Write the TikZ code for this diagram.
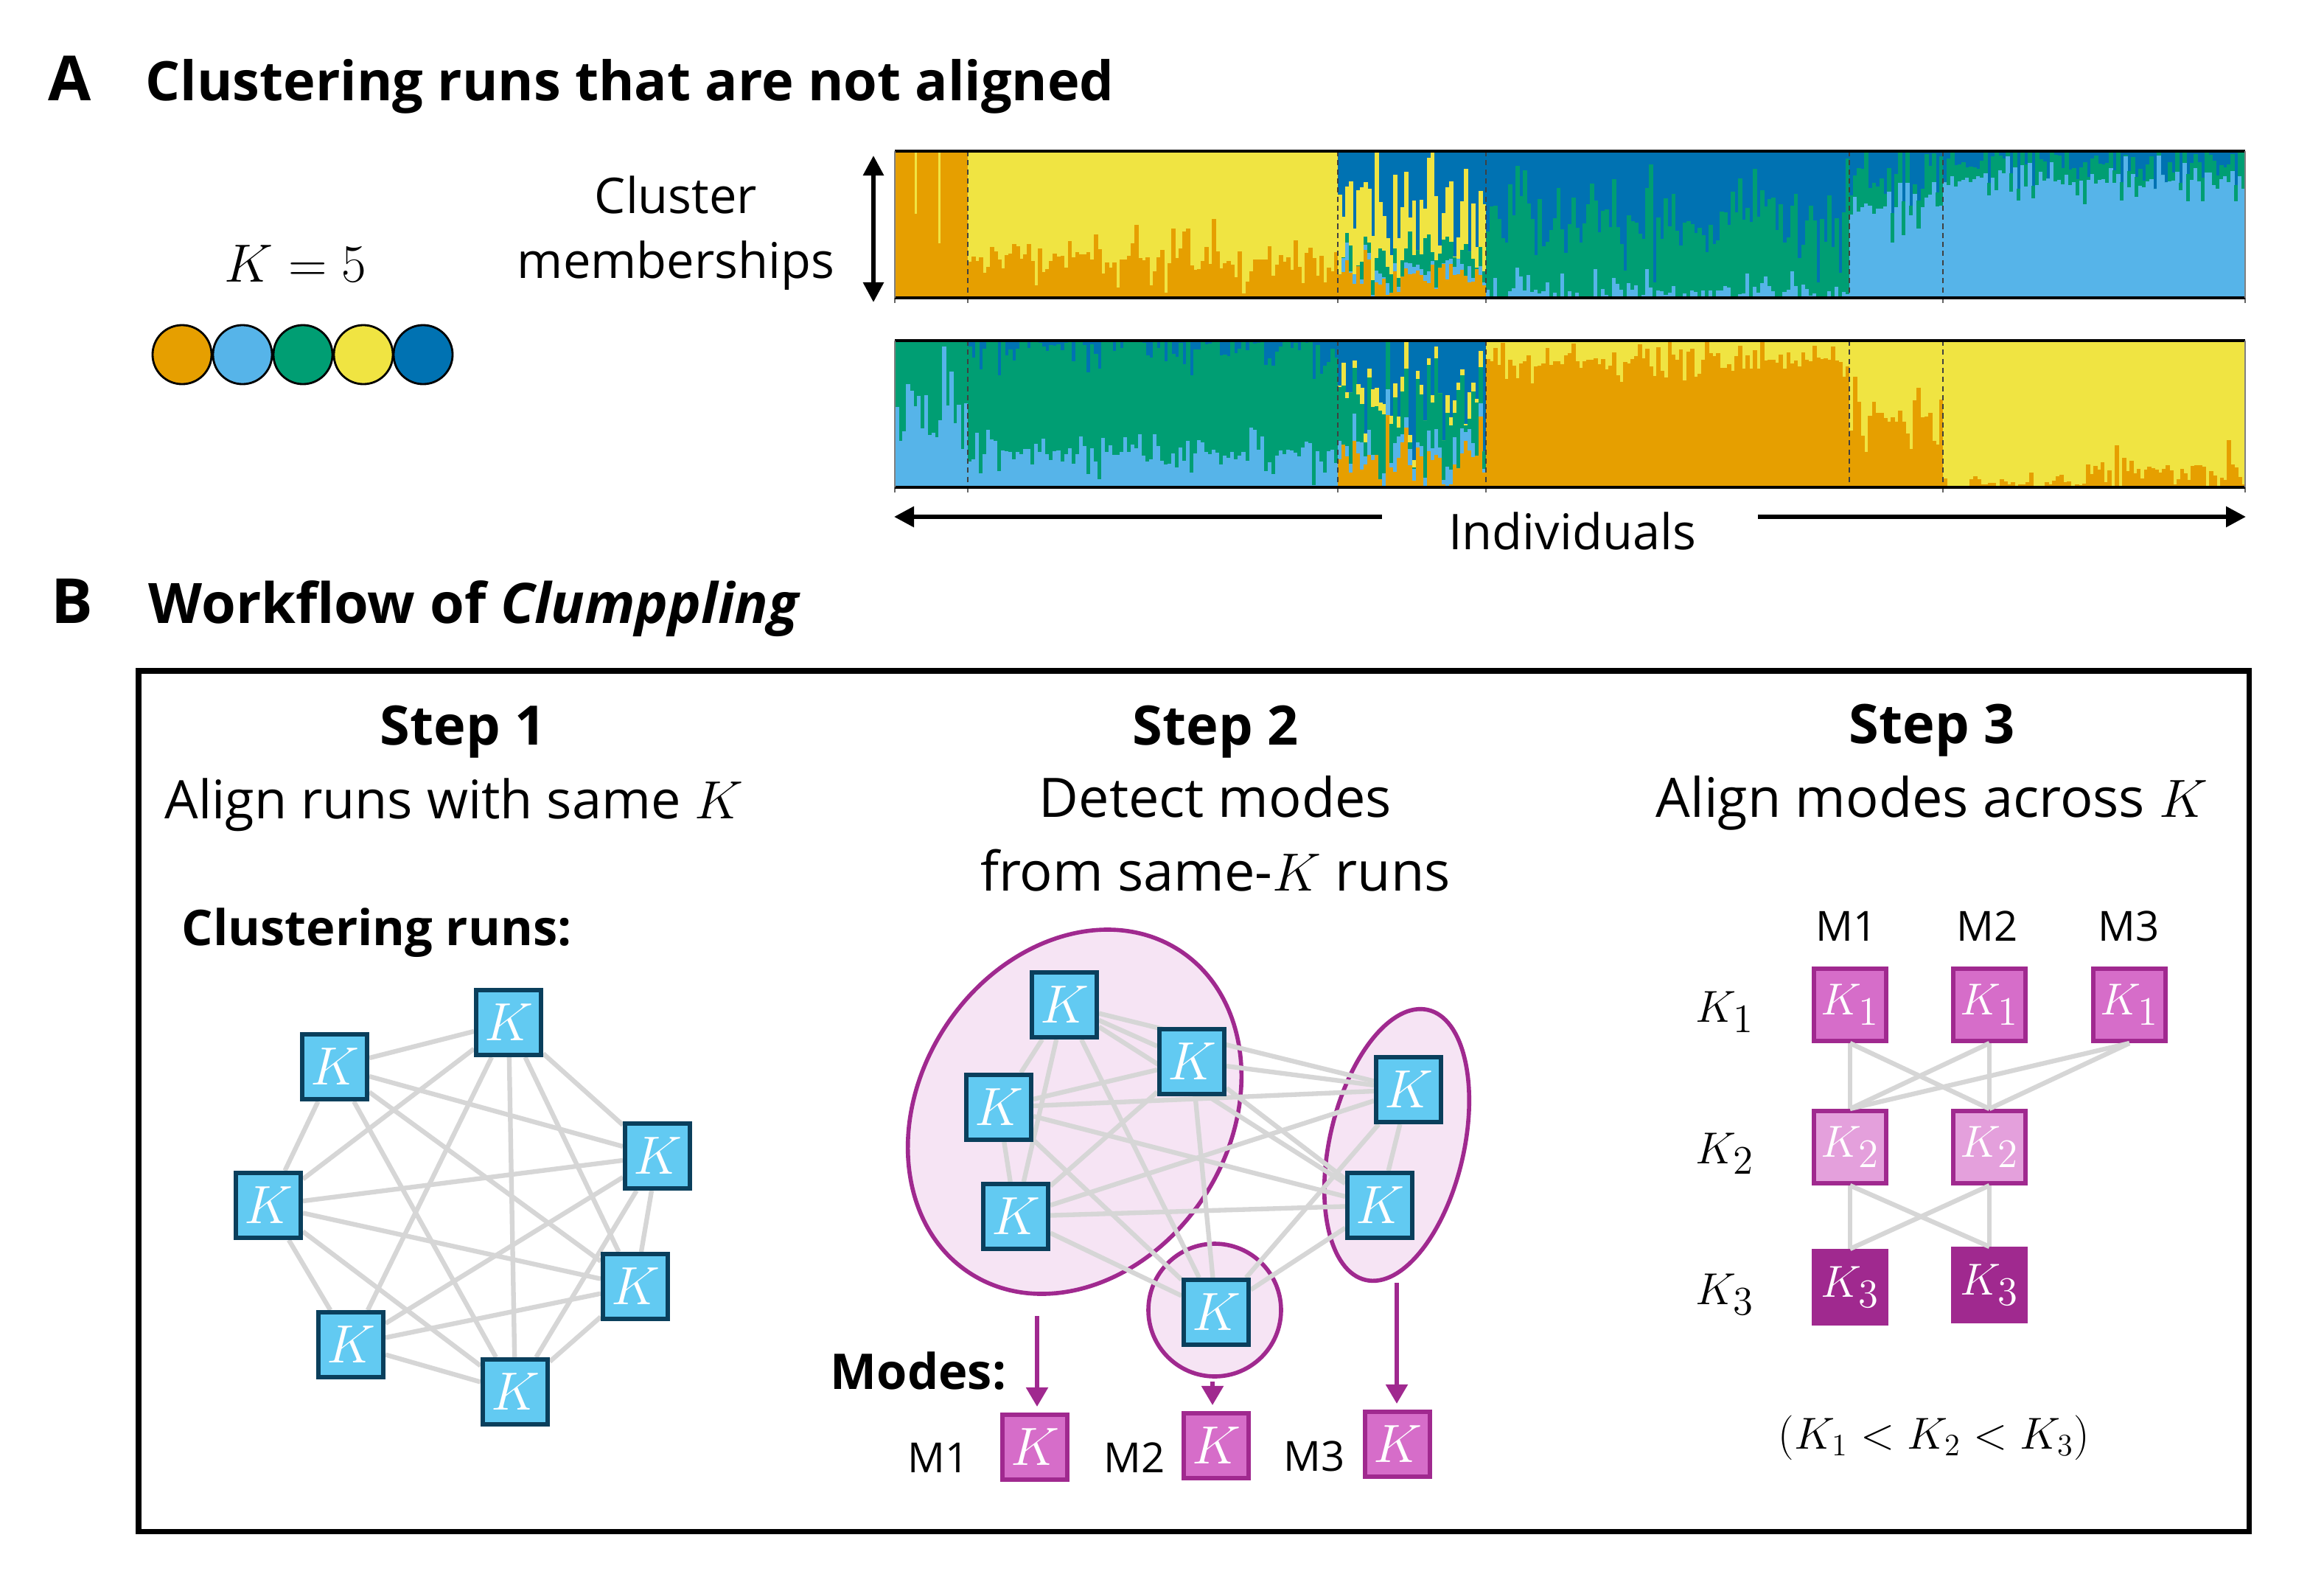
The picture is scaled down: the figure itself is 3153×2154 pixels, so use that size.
\documentclass[tikz,border=0pt]{standalone}
\usepackage[no-math]{fontspec}
\setmainfont{Open Sans}
\usetikzlibrary{arrows.meta}
\definecolor{cor}{HTML}{E69F00}
\definecolor{csky}{HTML}{56B4E9}
\definecolor{cgrn}{HTML}{009E73}
\definecolor{cyel}{HTML}{F0E442}
\definecolor{cblu}{HTML}{0072B2}
\definecolor{nodefill}{HTML}{62CAF2}
\definecolor{nodeline}{HTML}{0A3F5C}
\definecolor{purp}{HTML}{A0298F}
\definecolor{modefill}{HTML}{D66DC9}
\definecolor{lightmode}{HTML}{E4A0DC}
\definecolor{ellfill}{HTML}{F6E4F4}
\definecolor{edgegray}{HTML}{D6D6D6}
\pgfdeclarelayer{back}
\pgfdeclarelayer{mid}
\pgfsetlayers{back,mid,main}
\newcommand{\strseg}[6]{%
  \fill[#5] (#1,#3) rectangle (#2,#3-199);
  \pgfmathsetmacro{\colw}{(#2-#1)/#4}%
  \foreach \ci in {1,...,#4}{%
    \pgfmathsetmacro{\xa}{#1+(\ci-1)*\colw}%
    \pgfmathsetmacro{\xb}{min(#2,\xa+\colw+0.8)}%
    \xdef\cum{0}%
    \foreach \lc/\lm/\ls in {#6}{%
      \pgfmathsetmacro{\lv}{max(0,\lm+\ls*rand*abs(rand))}%
      \pgfmathsetmacro{\lnc}{min(1,\cum+\lv)}%
      \fill[\lc] (\xa,#3-\cum*199) rectangle (\xb,#3-\lnc*199);%
      \xdef\cum{\lnc}%
    }%
  }%
}
\newcommand{\Ks}[1]{$K_{\scalebox{1.3}{$\scriptstyle #1$}}$}
\tikzset{
  txt/.style={inner sep=0pt, anchor=base},
  titlefont/.style={font=\bfseries\fontsize{21}{26}\selectfont},
  letterfont/.style={font=\bfseries\fontsize{24}{29}\selectfont},
  stepbold/.style={font=\bfseries\fontsize{21}{25}\selectfont},
  steptext/.style={font=\fontsize{21}{25}\selectfont},
  labelA/.style={font=\fontsize{19}{23}\selectfont},
  boldlabel/.style={font=\bfseries\fontsize{19}{23}\selectfont},
  mlabel/.style={font=\fontsize{16}{19}\selectfont},
  mathlabel/.style={font=\fontsize{19}{23}\selectfont},
  runnode/.style={draw=nodeline, fill=nodefill, line width=1.7pt, minimum size=0.88cm,
    inner sep=0pt, text=white, font=\fontsize{20}{24}\selectfont},
  modenode/.style={runnode, draw=purp, fill=modefill},
  kbox/.style={runnode, draw=purp, fill=modefill, minimum size=0.98cm, font=\fontsize{18}{22}\selectfont},
  kbox2/.style={kbox, fill=lightmode},
  kbox3/.style={kbox, fill=purp},
  edge/.style={draw=edgegray, line width=1.8pt},
  ellip/.style={draw=purp, fill=ellfill, line width=1.6pt},
  modearrow/.style={draw=purp, line width=1.5pt, -{Triangle[length=0.26cm,width=0.29cm]}},
  blackarrow/.style={draw=black, line width=1.7pt, -{Triangle[length=0.27cm,width=0.27cm]}},
  swatch/.style={circle, draw=black, line width=0.8pt, minimum size=0.8cm, inner sep=0pt},
  bound/.style={draw=black!75, line width=0.3pt, dash pattern=on 2pt off 1.5pt},
  barline/.style={draw=black, line width=0.9pt}
}
\begin{document}
\begin{tikzpicture}[x=0.01cm,y=-0.01cm]
\useasboundingbox (0,0) rectangle (3153,2154);
\begin{pgfonlayer}{back}
\fill[white] (0,0) rectangle (3153,2154);
\end{pgfonlayer}

% ---------------- Panel A ----------------
\node[txt, anchor=base west, letterfont] (la) at (65,136) {A};
\node[txt, anchor=base west, titlefont] (ta) at (197,136) {Clustering runs that are not aligned};

\node[txt, mathlabel, font=\fontsize{20}{24}\selectfont] (k5) at (401,382) {$K=5$};
\node[swatch, fill=cor]  (sw1) at (247,481) {};
\node[swatch, fill=csky] (sw2) at (329,481) {};
\node[swatch, fill=cgrn] (sw3) at (411,481) {};
\node[swatch, fill=cyel] (sw4) at (493,481) {};
\node[swatch, fill=cblu] (sw5) at (574,481) {};

\node[txt, labelA] (cl1) at (917,289) {Cluster};
\node[txt, labelA] (cl2) at (917,377) {memberships};
\coordinate (vtop) at (1185,211);
\coordinate (vbot) at (1185,410);
\coordinate (vmid) at (1185,310);
\draw[blackarrow] (vmid) -- (vtop);
\draw[blackarrow] (vmid) -- (vbot);

\pgfmathsetseed{11}
% bar 1 (bottom at 404)
\fill[cor] (1214,205) rectangle (1313,404);
\fill[cyel] (1241,205) rectangle (1244,290);
\fill[cyel] (1273,205) rectangle (1276,330);
\strseg{1313}{1815}{404}{100}{cyel}{cor/0.24/0.32}
\strseg{1815}{2016}{404}{40}{cblu}{cor/0.16/0.2, csky/0.04/0.12, cgrn/0.1/0.2, cyel/0.35/0.5}
\strseg{2016}{2509}{404}{98}{cblu}{csky/0.04/0.2, cgrn/0.5/0.5}
\strseg{2509}{2636}{404}{25}{cblu}{csky/0.62/0.3, cgrn/0.2/0.25}
\strseg{2636}{3046}{404}{82}{cblu}{csky/0.8/0.22, cgrn/0.12/0.2}
% bar 2 (bottom at 661)
\strseg{1214}{1313}{661}{20}{cgrn}{csky/0.6/0.5}
\strseg{1313}{1815}{661}{100}{cblu}{csky/0.24/0.24, cgrn/0.72/0.16}
\strseg{1815}{2016}{661}{40}{cblu}{cor/0.22/0.35, csky/0.08/0.2, cgrn/0.3/0.35, cyel/0.05/0.15}
\strseg{2016}{2509}{661}{98}{cyel}{cor/0.86/0.2}
\strseg{2509}{2636}{661}{25}{cyel}{cor/0.5/0.35}
\strseg{2636}{2830}{661}{38}{cyel}{cor/0.02/0.1}
\strseg{2830}{3046}{661}{44}{cyel}{cor/0.12/0.22}

\foreach \bx in {1313,1815,2016,2509,2636}{
  \draw[bound] (\bx,205) -- (\bx,404);
  \draw[bound] (\bx,462) -- (\bx,661);
}
\foreach \bx in {1214,1313,1815,2016,2636,3046}{
  \draw[black!60, line width=0.3pt] (\bx,404) -- (\bx,411);
  \draw[black!60, line width=0.3pt] (\bx,661) -- (\bx,668);
}
\draw[barline] (1214,205) -- (3046,205);
\draw[barline] (1214,404) -- (3046,404);
\draw[barline] (1214,462) -- (3046,462);
\draw[barline] (1214,661) -- (3046,661);
\draw[black!50, line width=0.3pt] (1214,205) -- (1214,404) (3046,205) -- (3046,404)
  (1214,462) -- (1214,661) (3046,462) -- (3046,661);

\node[txt, labelA] (ind) at (2133,745) {Individuals};
\coordinate (il1) at (1875,701);
\coordinate (il2) at (1213,701);
\coordinate (ir1) at (2385,701);
\coordinate (ir2) at (3047,701);
\draw[blackarrow] (il1) -- (il2);
\draw[blackarrow] (ir1) -- (ir2);

% ---------------- Panel B ----------------
\node[txt, anchor=base west, letterfont] (lb) at (69,845) {B};
\node[txt, anchor=base west, titlefont, font=\bfseries\fontsize{21.5}{26}\selectfont] (tb) at (201,845) {Workflow of \textit{Clumppling}};
\draw[line width=2pt] (188,910) rectangle (3051,2077);

% Step headers
\node[txt, stepbold] (h1) at (628,1010) {Step 1};
\node[txt, steptext, font=\fontsize{20.5}{25}\selectfont] (d1) at (616,1110) {Align runs with same $K$};
\node[txt, stepbold] (h2) at (1649,1010) {Step 2};
\node[txt, steptext] (d2a) at (1649,1108) {Detect modes};
\node[txt, steptext] (d2b) at (1649,1208) {from same-$K$ runs};
\node[txt, stepbold] (h3) at (2621,1008) {Step 3};
\node[txt, steptext] (d3) at (2621,1108) {Align modes across $K$};

% Step 1
\node[txt, anchor=base west, boldlabel] (cr) at (246,1282) {Clustering runs:};
\node[runnode] (s1n1) at (690,1387) {$K$};
\node[runnode] (s1n2) at (454,1447) {$K$};
\node[runnode] (s1n3) at (892,1568) {$K$};
\node[runnode] (s1n4) at (364,1635) {$K$};
\node[runnode] (s1n5) at (862,1745) {$K$};
\node[runnode] (s1n6) at (476,1824) {$K$};
\node[runnode] (s1n7) at (699,1888) {$K$};
\begin{pgfonlayer}{mid}
\foreach \p/\q in {1/2,1/3,1/4,1/5,1/6,1/7,2/3,2/4,2/5,2/7,3/4,3/5,3/6,3/7,4/5,4/6,4/7,5/6,5/7,6/7}
  \draw[edge] (s1n\p) -- (s1n\q);
\end{pgfonlayer}

% Step 2
\begin{pgfonlayer}{back}
\draw[ellip, rotate around={57:(1458,1508)}] (1458,1508) ellipse (261 and 210);
\draw[ellip, rotate around={77:(1895,1553)}] (1895,1553) ellipse (188 and 91);
\draw[ellip] (1648,1777) circle (90);
\end{pgfonlayer}
\node[runnode] (s2a) at (1444,1363) {$K$};
\node[runnode] (s2b) at (1617,1440) {$K$};
\node[runnode] (s2c) at (1355,1502) {$K$};
\node[runnode] (s2d) at (1378,1650) {$K$};
\node[runnode] (s2e) at (1650,1780) {$K$};
\node[runnode] (s2f) at (1911,1478) {$K$};
\node[runnode] (s2g) at (1872,1635) {$K$};
\begin{pgfonlayer}{mid}
\foreach \p/\q in {a/b,a/c,a/d,a/e,a/f,a/g,b/c,b/d,b/e,b/f,b/g,c/d,c/e,c/f,c/g,d/e,d/f,d/g,e/f,e/g,f/g}
  \draw[edge] (s2\p) -- (s2\q);
\end{pgfonlayer}
\node[txt, anchor=base west, boldlabel] (modes) at (1126,1884) {Modes:};
\node[modenode] (mo1) at (1404,1963) {$K$};
\node[modenode] (mo2) at (1650,1961) {$K$};
\node[modenode] (mo3) at (1896,1959) {$K$};
\node[txt, mlabel] (ml1) at (1273,1997) {M1};
\node[txt, mlabel] (ml2) at (1539,1997) {M2};
\node[txt, mlabel] (ml3) at (1783,1995) {M3};
\coordinate (ar1) at (1407,1785);
\coordinate (ar2) at (1645,1874);
\coordinate (ar3) at (1895,1740);
\draw[modearrow, shorten >=0.08cm] (ar1) -- (ar1 |- mo1.north);
\draw[modearrow, shorten >=0.08cm] (ar2) -- (ar2 |- mo2.north);
\draw[modearrow, shorten >=0.08cm] (ar3) -- (ar3 |- mo3.north);

% Step 3
\node[txt, mlabel] (hm1) at (2505,1276) {M1};
\node[txt, mlabel] (hm2) at (2696,1276) {M2};
\node[txt, mlabel] (hm3) at (2888,1276) {M3};
\node[txt, font=\fontsize{18}{22}\selectfont] (kl1) at (2340,1386) {\Ks{1}};
\node[txt, font=\fontsize{18}{22}\selectfont] (kl2) at (2340,1578) {\Ks{2}};
\node[txt, font=\fontsize{18}{22}\selectfont] (kl3) at (2340,1769) {\Ks{3}};
\node[kbox]  (c11) at (2510,1363) {\Ks{1}};
\node[kbox]  (c12) at (2699,1363) {\Ks{1}};
\node[kbox]  (c13) at (2889,1363) {\Ks{1}};
\node[kbox2] (c21) at (2510,1556) {\Ks{2}};
\node[kbox2] (c22) at (2699,1556) {\Ks{2}};
\node[kbox3] (c31) at (2510,1746) {\Ks{3}};
\node[kbox3] (c32) at (2699,1743) {\Ks{3}};
\foreach \p/\q in {11/21,11/22,12/21,12/22,13/21,13/22}
  \draw[edge] (c\p.south) -- (c\q.north);
\foreach \p/\q in {21/31,21/32,22/31,22/32}
  \draw[edge] (c\p.south) -- (c\q.north);
\node[txt, font=\fontsize{17}{21}\selectfont] (ineq) at (2624,1965) {$(K_1<K_2<K_3)$};
\end{tikzpicture}
\end{document}
